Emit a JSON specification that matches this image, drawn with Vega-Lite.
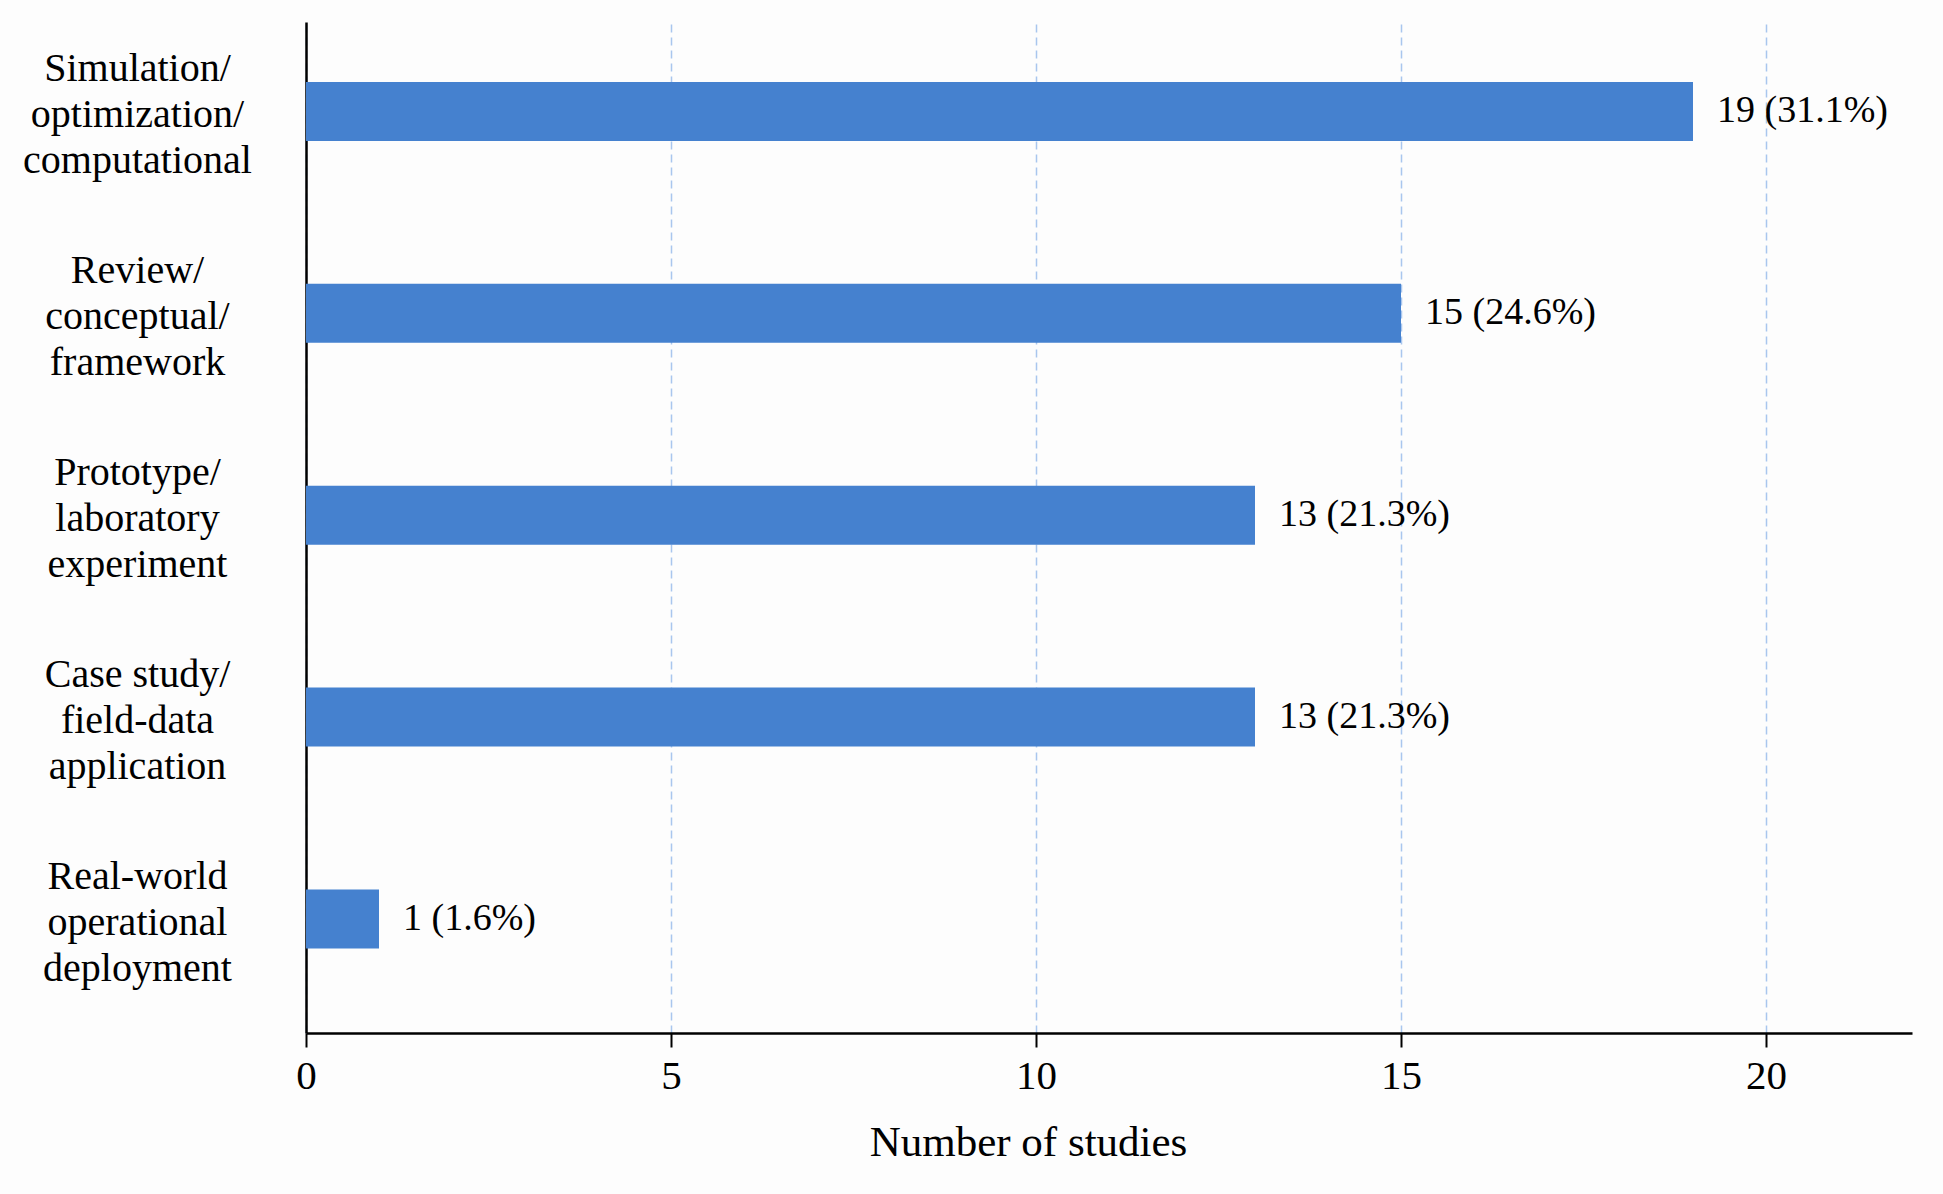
{
  "$schema": "https://vega.github.io/schema/vega-lite/v6.json",
  "autosize": {"type": "none"},
  "padding": {"left": 306, "top": 22, "right": 31, "bottom": 161},
  "width": 1606,
  "height": 1011,
  "background": "#fdfdfd",
  "data": {
    "values": [
      {"design": "Simulation/|optimization/|computational", "studies": 19, "label": "19 (31.1%)"},
      {"design": "Review/|conceptual/|framework", "studies": 15, "label": "15 (24.6%)"},
      {"design": "Prototype/|laboratory|experiment", "studies": 13, "label": "13 (21.3%)"},
      {"design": "Case study/|field-data|application", "studies": 13, "label": "13 (21.3%)"},
      {"design": "Real-world|operational|deployment", "studies": 1, "label": "1 (1.6%)"}
    ]
  },
  "encoding": {
    "y": {
      "field": "design",
      "type": "nominal",
      "sort": null,
      "scale": {"paddingInner": 0.708, "paddingOuter": 0.358, "align": 0.415},
      "axis": {
        "title": null,
        "ticks": false,
        "labelPadding": 169,
        "labelAlign": "center",
        "labelBaseline": "middle",
        "labelOffset": -42,
        "labelLimit": 0,
        "labelExpr": "split(datum.value, '|')",
        "labelLineHeight": 46,
        "labelFontSize": 40,
        "labelFont": "Liberation Serif",
        "labelColor": "black",
        "domainColor": "black",
        "domainWidth": 2.5,
        "grid": false
      }
    },
    "x": {
      "field": "studies",
      "type": "quantitative",
      "scale": {"domain": [0, 22], "nice": false},
      "axis": {
        "values": [0, 5, 10, 15, 20],
        "title": "Number of studies",
        "titleFont": "Liberation Serif",
        "titleFontSize": 43,
        "titleFontWeight": "normal",
        "titleColor": "black",
        "titleX": 722,
        "titleY": 122,
        "titleAlign": "center",
        "titleBaseline": "alphabetic",
        "labelFont": "Liberation Serif",
        "labelFontSize": 41,
        "labelColor": "black",
        "labelPadding": 9,
        "labelFlush": false,
        "tickSize": 14,
        "tickColor": "black",
        "tickWidth": 2,
        "domainColor": "black",
        "domainWidth": 2.5,
        "grid": true,
        "gridColor": "#a9c6ee",
        "gridDash": [8, 5],
        "gridWidth": 1.5
      }
    }
  },
  "layer": [
    {"mark": {"type": "bar", "color": "#4581cf"}},
    {
      "mark": {
        "type": "text",
        "align": "left",
        "baseline": "middle",
        "dx": 24,
        "font": "Liberation Serif",
        "fontSize": 38,
        "color": "black"
      },
      "encoding": {"text": {"field": "label"}}
    }
  ],
  "config": {"view": {"stroke": null}}
}
